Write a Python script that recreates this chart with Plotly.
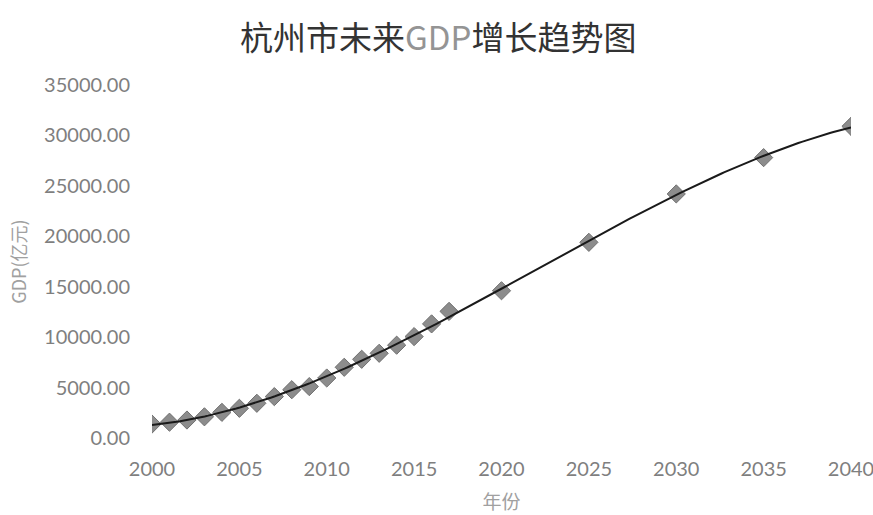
import numpy as np
import plotly.graph_objects as go

years = [2000, 2001, 2002, 2003, 2004, 2005, 2006, 2007, 2008, 2009,
         2010, 2011, 2012, 2013, 2014, 2015, 2016, 2017,
         2020, 2025, 2030, 2035, 2040]
gdp = [1382.56, 1568.0, 1781.8, 2099.8, 2543.2, 2943.6, 3441.5, 4104.4, 4788.4, 5098.7,
       5949.2, 7011.8, 7804.0, 8398.6, 9201.2, 10053.6, 11313.7, 12556.2,
       14600.0, 19400.0, 24200.0, 27800.0, 30900.0]

title_text = '杭州市未来<span style="color:#949494">GDP</span>增长趋势图'
x_title = "年份"
y_title = "GDP(亿元)"
x_ticks = [2000, 2005, 2010, 2015, 2020, 2025, 2030, 2035, 2040]

# polynomial trend line (like a spreadsheet trendline), derived from the data
coef = np.polyfit(np.array(years, float) - 2000, np.array(gdp), 3)
tx = np.linspace(2000, 2040, 200)
ty = np.polyval(coef, tx - 2000)

fig = go.Figure()
fig.add_trace(go.Scatter(
    x=years, y=gdp, mode="markers",
    marker=dict(symbol="diamond", size=14, color="#8c8c8c",
                line=dict(color="#707070", width=1)),
    showlegend=False, hoverinfo="x+y"))
fig.add_trace(go.Scatter(
    x=tx, y=ty, mode="lines",
    line=dict(color="#1a1a1a", width=2),
    showlegend=False, hoverinfo="skip"))

tick_font = dict(family="Lato, 'Open Sans', sans-serif", size=20, color="#7f7f7f")
cjk = "'Noto Sans CJK SC', sans-serif"
fig.update_layout(
    width=873, height=515,
    paper_bgcolor="white", plot_bgcolor="white",
    margin=dict(l=152, r=22, t=85, b=77, autoexpand=False),
    title=dict(text=title_text, x=0.502, xanchor="center", y=0.925, yanchor="middle",
               font=dict(family=cjk, size=33, color="#333333")),
    xaxis=dict(range=[2000, 2040], tickvals=x_ticks,
               showgrid=False, zeroline=False, showline=False, ticks="",
               tickfont=tick_font, ticklabelstandoff=17, ticklabeloverflow="allow",
               title=dict(text=x_title, standoff=16,
                          font=dict(family=cjk, size=19, color="#a0a0a0"))),
    yaxis=dict(range=[0, 35000], dtick=5000, tickformat=".2f",
               showgrid=False, zeroline=False, showline=False, ticks="",
               tickfont=tick_font, ticklabelstandoff=21,
               title=dict(text=y_title, standoff=12,
                          font=dict(family=cjk, size=18, color="#a0a0a0"))),
)

fig.write_html("out.html", config={"displayModeBar": False},
               post_script="document.body.style.margin='0';document.body.style.overflow='hidden';")
